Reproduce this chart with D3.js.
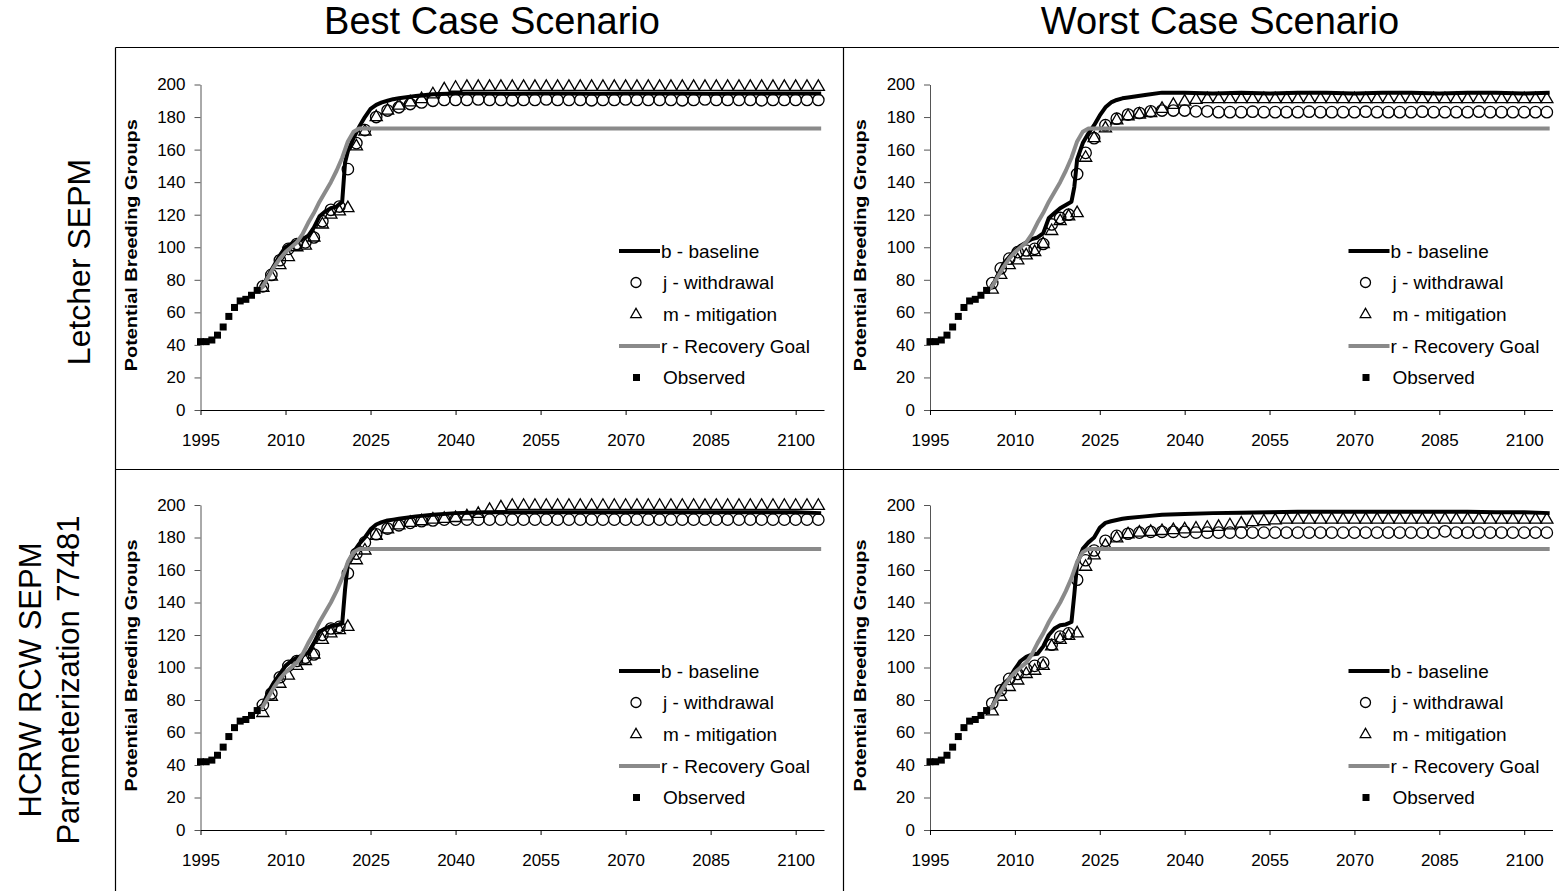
<!DOCTYPE html>
<html><head><meta charset="utf-8">
<script src="https://cdn.jsdelivr.net/npm/d3@7"></script>
<style>
body{margin:0;background:#fff}
svg text{font-family:"Liberation Sans",Arial,sans-serif;fill:#000}
</style></head><body>
<svg id="c" width="1559" height="891"></svg>
<script>
// ---------------- data ----------------
const columnTitles = ["Best Case Scenario", "Worst Case Scenario"];
const rowTitles = [["Letcher SEPM"], ["HCRW RCW SEPM", "Parameterization 77481"]];
const yAxisTitle = "Potential Breeding Groups";
const legendLabels = ["b - baseline", "j - withdrawal", "m - mitigation", "r - Recovery Goal", "Observed"];
const xTicks = [1995, 2010, 2025, 2040, 2055, 2070, 2085, 2100];
const yTicks = [0, 20, 40, 60, 80, 100, 120, 140, 160, 180, 200];

const observedYears = [1995, 1996, 1997, 1998, 1999, 2000, 2001, 2002, 2003, 2004, 2005];
const observedValues = [42, 42, 43, 46, 51, 57.5, 63, 67, 68, 70.5, 73.5];

const recoveryYears = [2005, 2006, 2007, 2008, 2009, 2010, 2011, 2012, 2013, 2014,
  2015, 2016, 2017, 2018, 2019, 2020, 2021, 2022, 2023, 2104.5];
const recoveryValues = [73, 76, 82, 88, 93, 97, 100, 103, 108, 115,
  121, 128, 134, 140, 147, 155, 165, 171, 173, 173];

const baselineYears = [2005, 2006, 2007, 2008, 2009, 2010, 2011, 2012, 2013, 2014, 2015, 2016, 2017, 2018, 2019, 2020,
  2020.5,
  2021, 2022, 2023, 2024, 2025, 2026, 2027, 2028, 2029, 2030,
  2033, 2036,
  2040, 2045, 2050, 2055, 2060, 2065, 2070, 2075, 2080, 2085, 2090, 2095, 2100,
  2104.5];

const markerYears = [2006, 2007.5, 2009, 2010.5, 2012, 2013.5, 2015, 2016.5, 2018, 2019.5, 2021, 2022.5, 2024,
  2026, 2028, 2030, 2032, 2034, 2036, 2038, 2040,
  2042, 2044, 2046, 2048, 2050, 2052, 2054, 2056,
  2058, 2060, 2062, 2064, 2066, 2068, 2070, 2072,
  2074, 2076, 2078, 2080, 2082, 2084, 2086, 2088,
  2090, 2092, 2094, 2096, 2098, 2100, 2102, 2104];

// Best case, Letcher SEPM
const baselineBestLetcher = [73, 76, 83, 89, 95, 100, 102, 104, 105, 107, 112, 119, 122, 124, 125, 128,
  152,
  159, 167, 174, 180, 185, 187.5, 189, 190, 191, 191.5,
  193, 194,
  194.5, 194.5, 194.3, 194.5, 194.5, 194.3, 194.5, 194.5, 194.5, 194.3, 194.5, 194.5, 194.5,
  194.5];
const withdrawalBestLetcher = [76, 83, 92, 99, 102, 103, 106, 116, 123, 125, 148, 164, 172,
  180, 184, 186, 188, 189, 190, 190.5, 190.5,
  190.5, 190.8, 190.5, 190.5, 190.3, 190.5, 190.5, 190.8,
  190.5, 190.5, 190.5, 190.3, 190.5, 190.5, 190.8, 190.5,
  190.5, 190.5, 190.5, 190.3, 190.5, 190.8, 190.5, 190.5,
  190.5, 190.5, 190.3, 190.5, 190.5, 190.5, 190.5, 190.5];
const mitigationBestLetcher = [75, 82, 89, 94, 100, 101, 106, 114, 120, 122, 124, 162, 171,
  180, 184, 187, 189, 191, 194, 197, 198,
  198.5, 198.5, 198.5, 198.5, 198.5, 198.5, 198.5, 198.5,
  198.5, 198.5, 198.5, 198.5, 198.5, 198.5, 198.5, 198.5,
  198.5, 198.5, 198.5, 198.5, 198.5, 198.5, 198.5, 198.5,
  198.5, 198.5, 198.5, 198.5, 198.5, 198.5, 198.5, 198.5];

// Worst case, Letcher SEPM
const baselineWorstLetcher = [73, 76, 83, 90, 94, 98, 101, 103, 105, 106, 108.5, 118, 121, 124, 126, 128,
  137,
  154, 164, 170, 175, 181, 186, 189, 190.5, 191.5, 192,
  193.5, 195,
  195, 194.5, 195, 194.5, 195, 195, 194.5, 195, 195, 194.5, 195, 195, 194.5,
  195];
const withdrawalWorstLetcher = [78, 87, 93, 97, 98, 99, 102, 114, 118, 120, 145, 158, 167,
  175, 179, 181.5, 182.5, 183.5, 184, 184, 184,
  183.5, 183.5, 183, 183, 183, 183.3, 183, 183,
  183, 183, 183.3, 183, 183, 183, 183, 183.3,
  183, 183, 183, 183, 183.3, 183, 183, 183,
  183, 183.3, 183, 183, 183, 183, 183, 183];
const mitigationWorstLetcher = [74, 83, 89, 92, 95, 97, 102, 110, 116, 119, 121, 155, 167,
  173, 178, 180.5, 181.5, 182.5, 185, 187.5, 189.5,
  190.5, 191, 191, 191, 191, 191, 191, 191,
  191, 191, 191, 191, 191, 191, 191, 191,
  191, 191, 191, 191, 191, 191, 191, 191,
  191, 191, 191, 191, 191, 191, 191, 191];

// Best case, HCRW RCW SEPM
const baselineBestHcrw = [74, 77, 85, 91, 96, 101, 104, 106, 107.5, 109, 115, 122, 124, 125.5, 126, 127,
  148,
  164, 171, 176, 180, 185, 188, 189.5, 190.5, 191, 191.5,
  193, 194,
  195, 195.5, 195.5, 195.5, 195.5, 195.5, 195.5, 195.5, 195.5, 195.5, 195.5, 195.5, 195.5,
  195];
const withdrawalBestHcrw = [77, 84, 94, 101, 104, 106, 108, 120, 124, 125, 158, 170, 177,
  182, 185.5, 187.5, 189, 190, 190.5, 191, 191,
  191, 191, 191, 191, 191, 191, 191, 191,
  191, 191, 191, 191, 191, 191, 191, 191,
  191, 191, 191, 191, 191, 191, 191, 191,
  191, 191, 191, 191, 191, 191, 191, 191];
const mitigationBestHcrw = [72, 82, 90, 95, 101, 104, 108, 117, 121, 123, 125, 166, 172,
  181, 185, 187.5, 189, 190, 191, 191.5, 192,
  193, 194.5, 197, 198.5, 199.5, 199.5, 199.5, 199.5,
  199.5, 199.5, 199.5, 199.5, 199.5, 199.5, 199.5, 199.5,
  199.5, 199.5, 199.5, 199.5, 199.5, 199.5, 199.5, 199.5,
  199.5, 199.5, 199.5, 199.5, 199.5, 199.5, 199.5, 199.5];

// Worst case, HCRW RCW SEPM
const baselineWorstHcrw = [74, 76, 84, 90, 93, 99, 104, 106.5, 108, 108.5, 113, 120, 124, 126, 126.5, 128,
  145,
  164, 173, 177, 180, 186, 189, 190, 190.8, 191.5, 192,
  193, 194,
  194.5, 195, 195.3, 195.5, 195.8, 195.8, 195.8, 195.8, 195.8, 195.8, 195.8, 195.5, 195.5,
  195];
const withdrawalWorstHcrw = [78, 86, 93, 96, 99, 101, 103, 114, 119, 121, 154, 166, 172,
  178, 181, 182.3, 183, 183.5, 183.5, 183.5, 183.5,
  183, 183, 183, 183, 183, 183, 183, 183,
  183, 183, 183, 183, 183, 183, 183, 183,
  183, 183, 183, 183, 183, 183, 183.8, 183,
  183, 183, 183, 183, 183, 183, 183, 183];
const mitigationWorstHcrw = [73, 82, 88, 92, 96, 98, 101, 113, 117, 119.5, 121, 162, 169,
  175, 179.5, 182, 183, 183.5, 184, 184.5, 185,
  185.5, 186, 186.5, 187.5, 188.5, 189.5, 190, 190.5,
  191, 191, 191, 191, 191, 191, 191, 191,
  191, 191, 191, 191, 191, 191, 191, 191,
  191, 191, 191, 191, 191, 191, 191, 191];

// ---------------- layout ----------------
const svg = d3.select("#c");
const FONT = '"Liberation Sans", Arial, sans-serif';

const colX = [[200.5, 824], [930, 1552.5]];
const rowY = [[410, 84.5], [830, 505]];
const panels = [
  {r: 0, c: 0, b: baselineBestLetcher, j: withdrawalBestLetcher, m: mitigationBestLetcher},
  {r: 0, c: 1, b: baselineWorstLetcher, j: withdrawalWorstLetcher, m: mitigationWorstLetcher},
  {r: 1, c: 0, b: baselineBestHcrw, j: withdrawalBestHcrw, m: mitigationBestHcrw},
  {r: 1, c: 1, b: baselineWorstHcrw, j: withdrawalWorstHcrw, m: mitigationWorstHcrw}
];

// frame
const frame = svg.append("g").attr("stroke", "#000").attr("stroke-width", 1.2).attr("fill", "none");
frame.append("line").attr("x1", 115.5).attr("x2", 1559).attr("y1", 47.5).attr("y2", 47.5);
frame.append("line").attr("x1", 115.5).attr("x2", 115.5).attr("y1", 47.5).attr("y2", 891);
frame.append("line").attr("x1", 843.5).attr("x2", 843.5).attr("y1", 47.5).attr("y2", 891);
frame.append("line").attr("x1", 115.5).attr("x2", 1559).attr("y1", 469.5).attr("y2", 469.5);

// column titles
const titleX = [492, 1220];
columnTitles.forEach((t, i) => {
  svg.append("text").attr("x", titleX[i]).attr("y", 34).attr("text-anchor", "middle")
    .style("font-size", "38px").text(t);
});

// row titles (rotated)
const rowCenterY = [262, 680];
rowTitles.forEach((lines, i) => {
  const g = svg.append("g").attr("transform", `translate(0,${rowCenterY[i]}) rotate(-90)`);
  const xs = lines.length === 1 ? [90] : [41, 79];
  lines.forEach((t, k) => {
    g.append("text").attr("x", 0).attr("y", xs[k]).attr("text-anchor", "middle")
      .style("font-size", lines.length === 1 ? "32px" : "31px").text(t);
  });
});

const lineGen = (x, y) => d3.line().x(d => x(d[0])).y(d => y(d[1]));
const triPath = d3.symbol(d3.symbolTriangle, 64)();

panels.forEach(p => {
  const x = d3.scaleLinear().domain([1995, 2105]).range(colX[p.c]);
  const y = d3.scaleLinear().domain([0, 200]).range(rowY[p.r]);
  const g = svg.append("g");

  // axes
  const ya = g.append("g").attr("transform", `translate(${colX[p.c][0]},0)`)
    .call(d3.axisLeft(y).tickValues(yTicks).tickSize(6).tickSizeOuter(0).tickPadding(9));
  const xa = g.append("g").attr("transform", `translate(0,${rowY[p.r][0]})`)
    .call(d3.axisBottom(x).tickValues(xTicks).tickFormat(d3.format("d")).tickSize(5).tickSizeOuter(0).tickPadding(19));
  [ya, xa].forEach(a => {
    a.selectAll("text").style("font-size", "17px").style("font-family", FONT);
    a.select(".domain").attr("stroke", "#000");
    a.selectAll(".tick line").attr("stroke", "#000");
  });
  ya.select(".domain").attr("stroke", "#555");
  ya.selectAll(".tick line").attr("stroke", "#555");

  // y axis title
  const yMid = (rowY[p.r][0] + rowY[p.r][1]) / 2 - 2;
  g.append("text")
    .attr("transform", `translate(${colX[p.c][0] - 64},${yMid}) rotate(-90)`)
    .attr("text-anchor", "middle").style("font-size", "17px").style("font-weight", "bold")
    .attr("textLength", 252).attr("lengthAdjust", "spacingAndGlyphs")
    .text(yAxisTitle);

  // baseline
  g.append("path").datum(d3.zip(baselineYears, p.b))
    .attr("fill", "none").attr("stroke", "#000").attr("stroke-width", 4)
    .attr("stroke-linejoin", "round").attr("d", lineGen(x, y));

  // withdrawal circles
  g.append("g").selectAll("circle").data(d3.zip(markerYears, p.j)).join("circle")
    .attr("cx", d => x(d[0])).attr("cy", d => y(d[1])).attr("r", 5.7)
    .attr("fill", "none").attr("stroke", "#000").attr("stroke-width", 1.3);

  // mitigation triangles
  g.append("g").selectAll("path").data(d3.zip(markerYears, p.m)).join("path")
    .attr("transform", d => `translate(${x(d[0])},${y(d[1])})`).attr("d", triPath)
    .attr("fill", "none").attr("stroke", "#000").attr("stroke-width", 1.3);

  // recovery goal
  g.append("path").datum(d3.zip(recoveryYears, recoveryValues))
    .attr("fill", "none").attr("stroke", "#8a8a8a").attr("stroke-width", 4)
    .attr("stroke-linejoin", "round").attr("d", lineGen(x, y));

  // observed squares
  g.append("g").selectAll("rect").data(d3.zip(observedYears, observedValues)).join("rect")
    .attr("x", d => x(d[0]) - 3.5).attr("y", d => y(d[1]) - 3.5)
    .attr("width", 7).attr("height", 7).attr("fill", "#000");

  // legend
  const lx = colX[p.c][0] + 418.5, ly = rowY[p.r][0];
  const rowsY = [-159, -127.5, -95.5, -64, -32.5].map(v => ly + v);
  const lg = g.append("g");
  lg.append("line").attr("x1", lx).attr("x2", lx + 41).attr("y1", rowsY[0]).attr("y2", rowsY[0])
    .attr("stroke", "#000").attr("stroke-width", 4);
  lg.append("circle").attr("cx", lx + 17).attr("cy", rowsY[1]).attr("r", 5)
    .attr("fill", "none").attr("stroke", "#000").attr("stroke-width", 1.3);
  lg.append("path").attr("transform", `translate(${lx + 17},${rowsY[2]})`).attr("d", d3.symbol(d3.symbolTriangle, 48)())
    .attr("fill", "none").attr("stroke", "#000").attr("stroke-width", 1.3);
  lg.append("line").attr("x1", lx).attr("x2", lx + 41).attr("y1", rowsY[3]).attr("y2", rowsY[3])
    .attr("stroke", "#8a8a8a").attr("stroke-width", 4);
  lg.append("rect").attr("x", lx + 14).attr("y", rowsY[4] - 3.5).attr("width", 7).attr("height", 7).attr("fill", "#000");
  const textX = [lx + 42, lx + 44, lx + 44, lx + 42, lx + 44];
  legendLabels.forEach((t, i) => {
    lg.append("text").attr("x", textX[i]).attr("y", rowsY[i]).attr("dy", "0.35em")
      .style("font-size", "19px").text(t);
  });
});
</script>
</body></html>
